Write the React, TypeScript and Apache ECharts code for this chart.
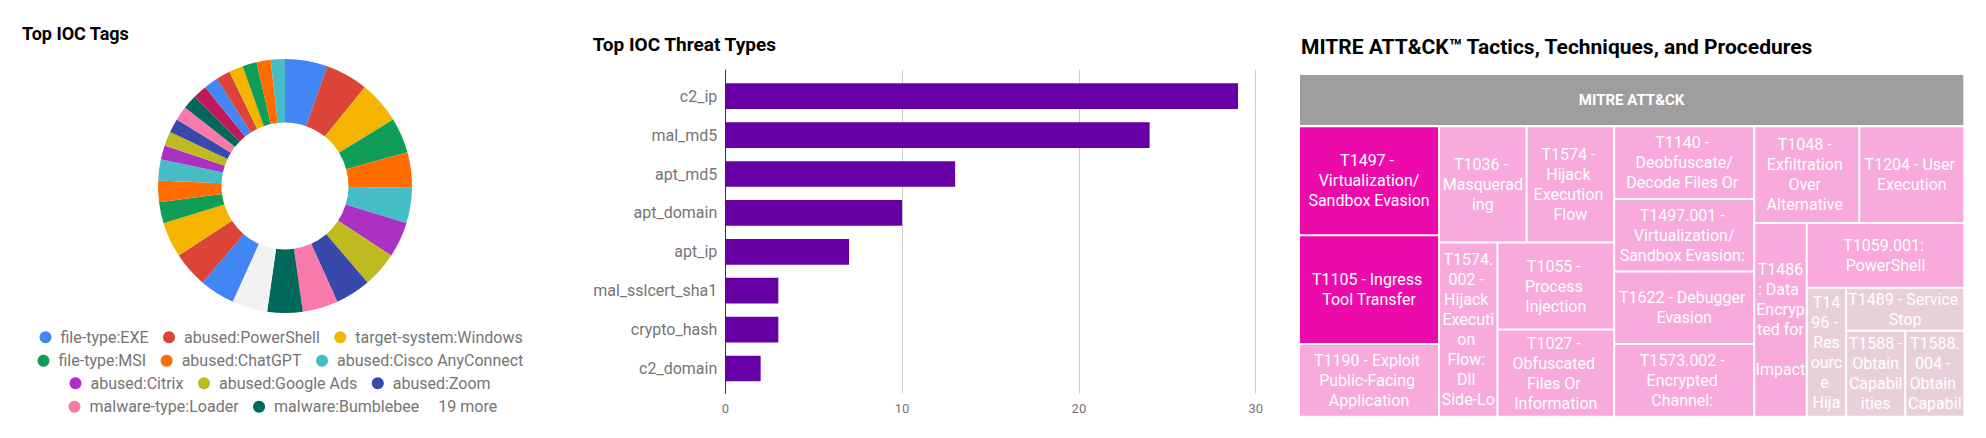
import React, { useEffect, useRef } from 'react';
import * as echarts from 'echarts';

// ---------- Data: Top IOC Tags (donut) ----------
const tagNames = [
  'file-type:EXE', 'abused:PowerShell', 'target-system:Windows', 'file-type:MSI',
  'abused:ChatGPT', 'abused:Cisco AnyConnect', 'abused:Citrix', 'abused:Google Ads',
  'abused:Zoom', 'malware-type:Loader', 'malware:Bumblebee',
  'other tag 12', 'other tag 13', 'other tag 14', 'other tag 15', 'other tag 16',
  'other tag 17', 'other tag 18', 'other tag 19', 'other tag 20', 'other tag 21',
  'other tag 22', 'other tag 23', 'other tag 24', 'other tag 25', 'other tag 26',
  'other tag 27', 'other tag 28', 'other tag 29', 'other tag 30',
];
const tagValues = [6, 6, 6, 5, 5, 5, 5, 5, 5, 5, 5, 5, 5, 5, 5, 3, 3, 3, 2, 2, 2, 2, 2, 2, 2, 2, 2, 2, 2, 2];
const tagColors = [
  '#4285F4', '#DB4437', '#F4B400', '#0F9D58', '#FF6D00', '#46BDC6', '#AB30C4', '#C0BA21',
  '#3949AB', '#F77AAA', '#00695C', '#F2F2F2', '#4285F4', '#DB4437', '#F4B400', '#0F9D58',
  '#FF6D00', '#46BDC6', '#AB30C4', '#C0BA21', '#3949AB', '#F77AAA', '#00695C', '#C2185B',
  '#4285F4', '#DB4437', '#F4B400', '#0F9D58', '#FF6D00', '#46BDC6',
];
const legendRows = [[0, 1, 2], [3, 4, 5], [6, 7, 8], [9, 10]];
const moreLabel = '19 more';

// ---------- Data: Top IOC Threat Types (bars) ----------
const threatTypes = ['c2_ip', 'mal_md5', 'apt_md5', 'apt_domain', 'apt_ip', 'mal_sslcert_sha1', 'crypto_hash', 'c2_domain'];
const threatCounts = [29, 24, 13, 10, 7, 3, 3, 2];
const threatAxisMax = 30;
const threatAxisInterval = 10;

// ---------- Data: MITRE ATT&CK treemap ----------
const techniqueNames = [
  'T1497 - Virtualization/Sandbox Evasion',
  'T1105 - Ingress Tool Transfer',
  'T1190 - Exploit Public-Facing Application',
  'T1036 - Masquerading',
  'T1574 - Hijack Execution Flow',
  'T1574.002 - Hijack Execution Flow: Dll Side-Loading',
  'T1055 - Process Injection',
  'T1027 - Obfuscated Files Or Information',
  'T1140 - Deobfuscate/Decode Files Or Information',
  'T1497.001 - Virtualization/Sandbox Evasion: System Checks',
  'T1622 - Debugger Evasion',
  'T1573.002 - Encrypted Channel: Asymmetric Cryptography',
  'T1048 - Exfiltration Over Alternative Protocol',
  'T1204 - User Execution',
  'T1486: Data Encrypted for Impact',
  'T1059.001: PowerShell',
  'T1496 - Resource Hijacking',
  'T1489 - Service Stop',
  'T1588 - Obtain Capabilities',
  'T1588.004 - Obtain Capabilities: Digital Certificates',
];
const techniqueCounts = [3, 3, 2, 2, 2, 2, 2, 2, 2, 2, 2, 2, 2, 2, 2, 2, 1, 1, 1, 1];
// binary-partition grouping (indices into the arrays above)
const mitreGroups: any[] = [[0, 1, 2], [[3, 4], 5, [6, 7]], [8, 9, 10, 11], [[12, 13], 14, 15, [16, 17, [18, 19]]]];
const mitreRootName = 'MITRE ATT&CK';

const countColor: Record<number, string> = { 1: '#E8D0DB', 2: '#F8AADC', 3: '#EC0BAA' };

function buildNode(g: any, path: string): any {
  if (typeof g === 'number') {
    return {
      name: techniqueNames[g],
      value: techniqueCounts[g],
      itemStyle: { color: countColor[techniqueCounts[g]] },
    };
  }
  return { name: 'group' + path, children: g.map((c: any, i: number) => buildNode(c, path + '-' + i)) };
}

const FONT = 'Roboto';

export default function App() {
  const ref = useRef<HTMLDivElement>(null);
  useEffect(() => {
    if (!ref.current) return;
    const chart = echarts.init(ref.current, undefined, { renderer: 'svg' });

    const titleStyle = (size: number) => ({
      fontSize: size, fontWeight: 'bold', color: '#000', fontFamily: FONT, lineHeight: size + 4,
    });
    const legendLefts = [39.5, 37.5, 69.5, 68.5];
    const legendCenters = [337.3, 360.7, 383.3, 406.7];

    const option: any = {
      animation: false,
      textStyle: { fontFamily: FONT },
      title: [
        { text: 'Top IOC Tags', left: 22, top: 33 - 11, padding: 0, textStyle: titleStyle(18) },
        { text: 'Top IOC Threat Types', left: 592.7, top: 44.3 - 11.5, padding: 0, textStyle: titleStyle(19) },
        { text: 'MITRE ATT&CK™ Tactics, Techniques, and Procedures', left: 1301, top: 47.3 - 12.5, padding: 0, textStyle: titleStyle(21) },
      ],
      legend: legendRows.map((row, i) => ({
        data: row.map((k) => tagNames[k]),
        orient: 'horizontal',
        left: legendLefts[i],
        top: legendCenters[i] - 9,
        padding: 0,
        icon: 'circle',
        itemWidth: 20,
        itemHeight: 12,
        itemGap: 14.5,
        selectedMode: false,
        textStyle: { fontSize: 16, color: '#757575', fontFamily: FONT, lineHeight: 18 },
      })),
      grid: [
        { left: 725.3, top: 70, width: 530.4, height: 323.3 },
        { left: 725.3, top: 76.75, width: 530.4, height: 311.2 },
      ],
      xAxis: [
        {
          gridIndex: 0, type: 'value', min: 0, max: threatAxisMax, interval: threatAxisInterval,
          splitLine: { show: true, lineStyle: { color: '#cccccc', width: 1 } },
          axisLine: { show: false }, axisTick: { show: false },
          axisLabel: { color: '#757575', fontSize: 13, margin: 9, fontFamily: FONT },
        },
        { gridIndex: 1, type: 'value', min: 0, max: threatAxisMax, show: false },
      ],
      yAxis: [
        {
          gridIndex: 0, type: 'value', min: 0, max: 1,
          axisLine: { show: true, lineStyle: { color: '#333333', width: 1 } },
          axisLabel: { show: false }, axisTick: { show: false }, splitLine: { show: false },
        },
        {
          gridIndex: 1, type: 'category', data: threatTypes, inverse: true,
          axisLine: { show: false }, axisTick: { show: false },
          axisLabel: { color: '#757575', fontSize: 16, margin: 8, fontFamily: FONT },
        },
      ],
      graphic: [
        {
          type: 'text', x: 438.3, y: legendCenters[3],
          style: { text: moreLabel, fill: '#757575', fontSize: 16, fontFamily: FONT, verticalAlign: 'middle' },
        },
        { type: 'rect', shape: { x: 1300, y: 75, width: 663.3, height: 50 }, style: { fill: '#9E9E9E' } },
        {
          type: 'text', x: 1631.6, y: 100,
          style: { text: mitreRootName, fill: '#ffffff', fontSize: 15, fontWeight: 'bold', fontFamily: FONT, align: 'center', verticalAlign: 'middle' },
        },
      ],
      series: [
        {
          type: 'pie',
          center: [285, 186],
          radius: [63.5, 127],
          startAngle: 90,
          clockwise: true,
          label: { show: false },
          labelLine: { show: false },
          emphasis: { disabled: true },
          itemStyle: { borderWidth: 0 },
          data: tagNames.map((n, i) => ({ name: n, value: tagValues[i], itemStyle: { color: tagColors[i] } })),
        },
        {
          type: 'bar',
          xAxisIndex: 1,
          yAxisIndex: 1,
          data: threatCounts,
          barWidth: 25.7,
          itemStyle: { color: '#6600A5' },
        },
        {
          type: 'treemap',
          left: 1300,
          top: 127.3,
          width: 663.3,
          height: 288.4,
          roam: false,
          nodeClick: false,
          breadcrumb: { show: false },
          squareRatio: 0.001,
          sort: false,
          visibleMin: 0,
          itemStyle: { borderWidth: 0, gapWidth: 2, borderColor: '#ffffff' },
          levels: [{ itemStyle: { borderWidth: 0, gapWidth: 2, borderColor: '#ffffff' } }],
          label: {
            show: true, position: 'inside', color: '#ffffff', fontSize: 16, lineHeight: 20,
            fontFamily: FONT, overflow: 'break', padding: [0, 1],
          },
          upperLabel: { show: false },
          data: mitreGroups.map((g, i) => buildNode(g, String(i))),
        },
      ],
    };
    chart.setOption(option);
    return () => chart.dispose();
  }, []);
  return <div ref={ref} style={{ position: 'absolute', left: 0, top: 0, width: 1986, height: 438 }} />;
}
